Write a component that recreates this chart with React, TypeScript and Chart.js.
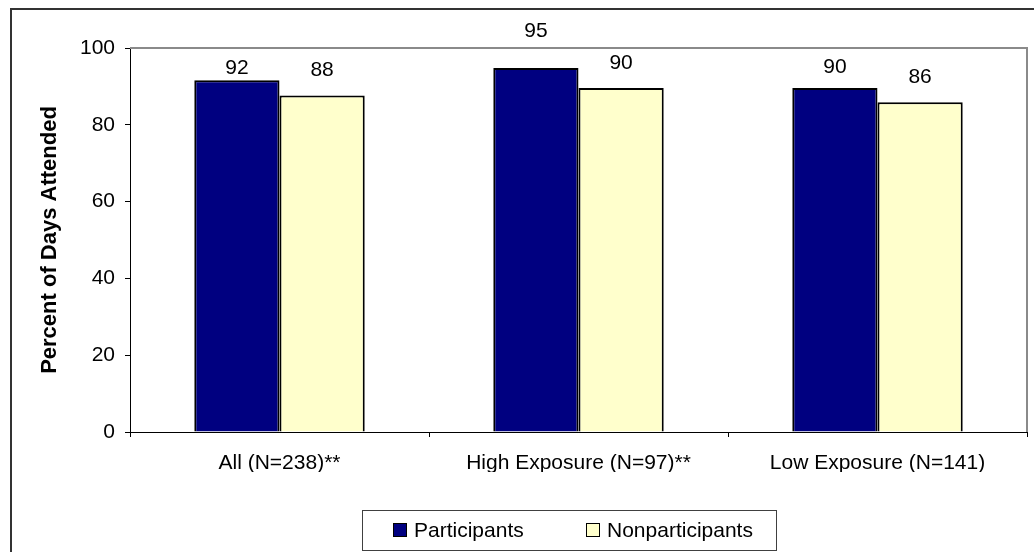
import React, { useEffect, useRef } from "react";
import { Chart, registerables } from "chart.js";

Chart.register(...registerables);

// ---- data ----
const categories = ["All (N=238)**", "High Exposure (N=97)**", "Low Exposure (N=141)"];
const seriesNames = ["Participants", "Nonparticipants"];
const participants = [91.6, 94.8, 89.6];
const nonparticipants = [87.6, 89.6, 85.9];
const yTicks = [0, 20, 40, 60, 80, 100];
const yTitle = "Percent of Days Attended";

// ---- presentation ----
const seriesColors = ["#000080", "#FFFFCC"];
const labelLift = [
  [14, 38, 22],
  [27, 26.5, 26.5],
];
const FONT = "'Liberation Sans', Arial, Helvetica, sans-serif";
const FS = 21;

const framePlugin = {
  id: "frame",
  beforeDraw(chart: any) {
    const ctx = chart.ctx;
    ctx.save();
    ctx.fillStyle = "#ffffff";
    ctx.fillRect(0, 0, chart.width, chart.height);
    ctx.restore();
  },
  beforeDatasetsDraw(chart: any) {
    const { ctx, chartArea: a } = chart;
    ctx.save();
    ctx.strokeStyle = "#8a8a8a";
    ctx.lineWidth = 2;
    ctx.beginPath();
    ctx.moveTo(a.left, a.top);
    ctx.lineTo(a.right, a.top);
    ctx.lineTo(a.right, a.bottom);
    ctx.stroke();
    ctx.restore();
  },
  afterDraw(chart: any) {
    const ctx = chart.ctx;
    ctx.save();
    // outer chart frame (only left and top edges are visible)
    ctx.strokeStyle = "#333333";
    ctx.lineWidth = 2;
    ctx.beginPath();
    ctx.moveTo(11, chart.height);
    ctx.lineTo(11, 9);
    ctx.lineTo(chart.width, 9);
    ctx.stroke();

    // legend box
    ctx.strokeStyle = "#404040";
    ctx.lineWidth = 1;
    ctx.strokeRect(362.5, 510.5, 414, 40);
    ctx.font = `${FS}px ${FONT}`;
    ctx.textBaseline = "middle";
    ctx.textAlign = "left";
    chart.data.datasets.forEach((ds: any, i: number) => {
      const x0 = 393 + i * 193;
      ctx.fillStyle = ds.backgroundColor;
      ctx.fillRect(x0, 523, 14, 14);
      ctx.strokeStyle = "#000";
      ctx.strokeRect(x0 + 0.5, 523.5, 13, 13);
      ctx.fillStyle = "#000";
      ctx.fillText(ds.label, x0 + 21, 531);
    });
    ctx.restore();
  },
};

const valueLabelPlugin = {
  id: "valueLabels",
  afterDatasetsDraw(chart: any) {
    const ctx = chart.ctx;
    ctx.save();
    ctx.font = `${FS}px ${FONT}`;
    ctx.fillStyle = "#000";
    ctx.textAlign = "center";
    ctx.textBaseline = "alphabetic";
    chart.data.datasets.forEach((ds: any, i: number) => {
      const meta = chart.getDatasetMeta(i);
      meta.data.forEach((bar: any, j: number) => {
        const v = ds.data[j];
        const center = bar.y - labelLift[i][j];
        ctx.fillText(String(Math.round(v)), bar.x, center + 0.358 * FS);
      });
    });
    ctx.restore();
  },
};

export default function App() {
  const ref = useRef<HTMLCanvasElement | null>(null);

  useEffect(() => {
    if (!ref.current) return;
    const chart = new Chart(ref.current, {
      type: "bar",
      data: {
        labels: categories,
        datasets: [
          {
            label: seriesNames[0],
            data: participants,
            backgroundColor: seriesColors[0],
            borderColor: "#000000",
            borderWidth: 2,
          },
          {
            label: seriesNames[1],
            data: nonparticipants,
            backgroundColor: seriesColors[1],
            borderColor: "#000000",
            borderWidth: 2,
          },
        ],
      },
      options: {
        responsive: false,
        animation: false,
        maintainAspectRatio: false,
        categoryPercentage: 0.57,
        barPercentage: 1,
        layout: { padding: { left: 0, top: 48, right: 7, bottom: 80 } },
        plugins: {
          legend: { display: false },
          tooltip: { enabled: false },
          title: { display: false },
        },
        scales: {
          x: {
            offset: true,
            grid: {
              offset: true,
              drawOnChartArea: false,
              drawTicks: true,
              tickLength: 5,
              color: "#000",
              lineWidth: 1,
            },
            border: { display: true, color: "#000", width: 1 },
            ticks: {
              color: "#000",
              font: { family: FONT, size: FS },
              padding: 14,
              maxRotation: 0,
              autoSkip: false,
            },
            afterFit(scale: any) {
              scale.height = 40;
            },
          },
          y: {
            min: 0,
            max: 100,
            grid: {
              drawOnChartArea: false,
              drawTicks: true,
              tickLength: 5,
              color: "#000",
              lineWidth: 1,
            },
            border: { display: true, color: "#000", width: 1 },
            ticks: {
              color: "#000",
              font: { family: FONT, size: FS },
              padding: 10,
            },
            afterBuildTicks(scale: any) {
              scale.ticks = yTicks.map((v) => ({ value: v }));
            },
            title: {
              display: true,
              text: yTitle,
              color: "#000",
              font: { family: FONT, size: 22, weight: "bold" },
              padding: { top: 37, bottom: 0 },
            },
            afterFit(scale: any) {
              scale.width = 130;
            },
          },
        },
      },
      plugins: [framePlugin, valueLabelPlugin],
    });
    return () => chart.destroy();
  }, []);

  return (
    <div style={{ position: "absolute", left: 0, top: 0, width: 1034, height: 552 }}>
      <canvas ref={ref} width={1034} height={552} style={{ display: "block" }} />
    </div>
  );
}
